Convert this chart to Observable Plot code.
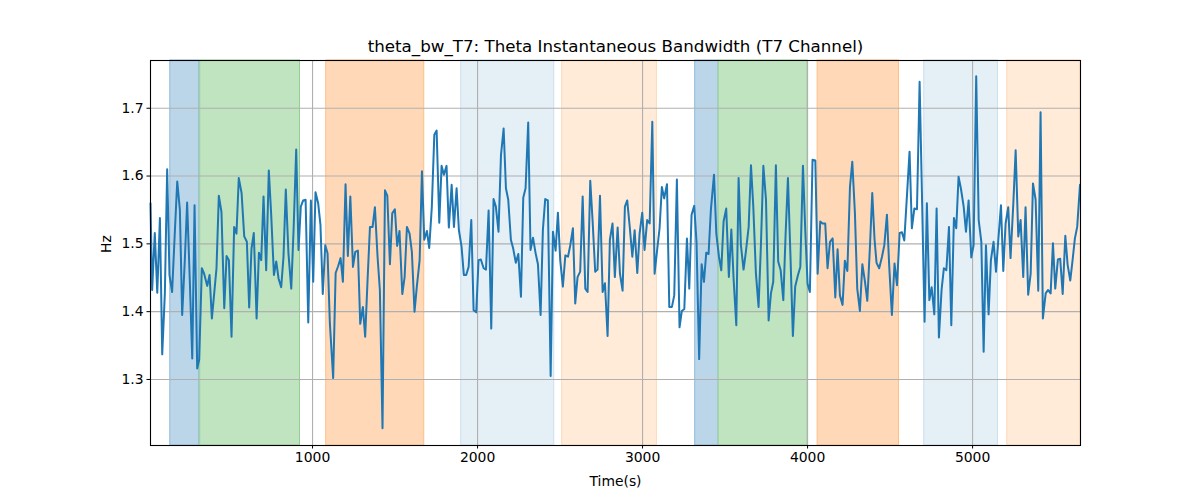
<!DOCTYPE html>
<html><head><meta charset="utf-8">
<script src="https://cdn.jsdelivr.net/npm/d3@7"></script>
<script src="https://cdn.jsdelivr.net/npm/@observablehq/plot@0.6"></script>
<style>
body{margin:0;background:#fff;}
svg{font-family:"DejaVu Sans",sans-serif;}
</style>
</head><body><div id="chart"></div>
<script>
const title = "theta_bw_T7: Theta Instantaneous Bandwidth (T7 Channel)";
const xLabel = "Time(s)";
const yLabel = "Hz";
const xTicks = [1000, 2000, 3000, 4000, 5000];
const yTicks = [1.3, 1.4, 1.5, 1.6, 1.7];

const times = [18,28,44,59,75,89,105,119,133,149,165,180,196,210,226,240,256,271,285,301,313,329,343,362,376,390,404,418,432,448,465,479,493,509,525,539,553,570,586,602,616,630,644,661,675,689,703,719,735,749,766,780,794,810,824,838,854,871,885,901,915,929,943,958,974,990,1004,1018,1034,1048,1062,1077,1091,1105,1125,1140,1155,1170,1184,1200,1214,1229,1245,1259,1275,1289,1305,1319,1334,1348,1364,1378,1394,1408,1424,1439,1453,1469,1483,1499,1513,1527,1544,1558,1572,1588,1602,1618,1632,1649,1663,1677,1693,1707,1723,1738,1752,1768,1782,1796,1812,1826,1843,1857,1873,1887,1903,1917,1931,1946,1962,1976,1992,2006,2020,2037,2051,2067,2083,2097,2111,2127,2142,2158,2172,2186,2202,2216,2232,2247,2263,2277,2291,2307,2321,2336,2352,2366,2382,2396,2410,2426,2443,2457,2473,2487,2501,2517,2532,2548,2562,2578,2592,2606,2622,2637,2653,2667,2683,2697,2713,2727,2742,2758,2772,2788,2802,2818,2832,2849,2863,2879,2893,2907,2923,2938,2952,2968,2982,2998,3012,3028,3043,3059,3073,3087,3103,3117,3131,3148,3162,3178,3192,3208,3224,3238,3253,3269,3283,3297,3313,3327,3343,3358,3372,3386,3400,3414,3433,3447,3463,3477,3491,3507,3523,3538,3552,3568,3582,3596,3612,3626,3643,3657,3671,3687,3703,3717,3732,3748,3764,3778,3792,3808,3822,3837,3853,3867,3881,3897,3911,3925,3942,3956,3972,3986,4000,4014,4030,4047,4061,4077,4091,4107,4121,4136,4152,4168,4182,4196,4212,4226,4241,4257,4271,4287,4301,4317,4332,4348,4362,4378,4392,4406,4418,4434,4451,4465,4481,4495,4511,4527,4542,4558,4572,4586,4602,4618,4632,4647,4663,4679,4693,4709,4723,4738,4752,4768,4782,4796,4812,4826,4841,4857,4871,4887,4901,4915,4929,4946,4960,4976,4992,5006,5022,5037,5053,5067,5081,5097,5111,5127,5142,5156,5172,5186,5200,5216,5230,5247,5261,5277,5291,5307,5321,5337,5352,5366,5382,5398,5412,5426,5443,5457,5473,5487,5501,5517,5531,5546,5562,5576,5592,5606,5620,5634,5651];

const values = [1.56,1.432,1.516,1.428,1.538,1.337,1.427,1.61,1.454,1.429,1.515,1.592,1.55,1.395,1.476,1.561,1.447,1.331,1.557,1.316,1.329,1.464,1.456,1.438,1.454,1.39,1.427,1.464,1.571,1.547,1.405,1.482,1.476,1.363,1.525,1.515,1.597,1.575,1.511,1.503,1.406,1.493,1.516,1.39,1.487,1.476,1.570,1.461,1.608,1.545,1.454,1.474,1.449,1.436,1.481,1.58,1.486,1.434,1.52,1.639,1.491,1.555,1.564,1.565,1.384,1.564,1.444,1.576,1.56,1.528,1.426,1.498,1.486,1.383,1.302,1.457,1.467,1.479,1.444,1.588,1.482,1.570,1.466,1.488,1.49,1.382,1.407,1.363,1.45,1.525,1.525,1.554,1.481,1.432,1.228,1.579,1.571,1.47,1.545,1.551,1.497,1.519,1.426,1.451,1.525,1.515,1.488,1.40,1.437,1.476,1.607,1.506,1.519,1.494,1.555,1.661,1.667,1.531,1.615,1.602,1.615,1.524,1.587,1.525,1.582,1.52,1.496,1.454,1.454,1.466,1.535,1.402,1.399,1.476,1.477,1.464,1.462,1.549,1.375,1.566,1.555,1.518,1.631,1.670,1.582,1.565,1.506,1.493,1.472,1.485,1.422,1.568,1.582,1.679,1.491,1.509,1.486,1.47,1.395,1.521,1.566,1.564,1.305,1.518,1.49,1.546,1.476,1.437,1.483,1.481,1.498,1.523,1.412,1.451,1.459,1.57,1.434,1.429,1.593,1.535,1.459,1.462,1.571,1.429,1.442,1.364,1.506,1.530,1.451,1.524,1.456,1.431,1.555,1.564,1.523,1.481,1.52,1.457,1.515,1.546,1.491,1.535,1.53,1.68,1.456,1.488,1.523,1.584,1.567,1.588,1.407,1.407,1.424,1.595,1.377,1.401,1.404,1.508,1.434,1.543,1.556,1.503,1.33,1.47,1.444,1.487,1.485,1.55,1.602,1.515,1.481,1.461,1.533,1.552,1.451,1.521,1.447,1.38,1.597,1.498,1.462,1.488,1.525,1.616,1.555,1.456,1.407,1.496,1.615,1.565,1.387,1.427,1.444,1.616,1.474,1.461,1.417,1.515,1.597,1.477,1.364,1.437,1.454,1.466,1.615,1.52,1.441,1.429,1.624,1.623,1.456,1.533,1.53,1.53,1.464,1.503,1.508,1.421,1.492,1.424,1.41,1.475,1.46,1.584,1.621,1.545,1.434,1.401,1.47,1.444,1.416,1.496,1.575,1.506,1.472,1.464,1.481,1.498,1.543,1.466,1.395,1.471,1.439,1.516,1.517,1.505,1.57,1.636,1.523,1.552,1.551,1.739,1.575,1.385,1.56,1.417,1.436,1.396,1.552,1.362,1.432,1.464,1.461,1.525,1.38,1.538,1.523,1.599,1.582,1.555,1.518,1.564,1.48,1.498,1.747,1.535,1.503,1.341,1.498,1.396,1.476,1.503,1.459,1.506,1.557,1.46,1.53,1.554,1.479,1.56,1.638,1.511,1.535,1.451,1.554,1.425,1.456,1.589,1.565,1.431,1.694,1.39,1.427,1.432,1.427,1.501,1.434,1.477,1.478,1.426,1.512,1.469,1.446,1.476,1.508,1.525,1.587];

const regionStarts = [138, 319, 1083, 1901, 2513, 3319, 3461, 4061, 4707, 5210];
const regionEnds   = [313, 924, 1677, 2465, 3087, 3461, 4000, 4554, 5154, 5654];
const regionTypes  = ["blue", "green", "orange", "lightblue", "lightorange", "blue", "green", "orange", "lightblue", "lightorange"];

// styling (not data)
const palette = {
  blue: ["#1f77b4", 0.3],
  green: ["#2ca02c", 0.3],
  orange: ["#ff7f0e", 0.3],
  lightblue: ["#1f77b4", 0.12],
  lightorange: ["#ff7f0e", 0.16]
};

const series = times.map((t, i) => ({t, v: values[i]}));
const regions = regionStarts.map((s, i) => {
  const [base, a] = palette[regionTypes[i]];
  return {
    start: s, end: regionEnds[i],
    fill: d3.interpolateRgb("white", base)(a),
    edge: d3.interpolateRgb("white", base)(1 - (1 - a) * (1 - a))
  };
});

const chart = Plot.plot({
  width: 1200, height: 500,
  marginLeft: 150, marginRight: 120, marginTop: 60, marginBottom: 55,
  style: {fontFamily: "DejaVu Sans, sans-serif", fontSize: "13.9px", color: "black", background: "white"},
  x: {domain: [18, 5654]},
  y: {domain: [1.2026, 1.7704]},
  color: {type: "identity"},
  marks: [
    Plot.rect(regions, {x1: "start", x2: "end", fill: "fill", stroke: "edge", strokeWidth: 1}),
    Plot.gridX(xTicks, {stroke: "#b0b0b0", strokeOpacity: 1, strokeWidth: 1.1}),
    Plot.gridY(yTicks, {stroke: "#b0b0b0", strokeOpacity: 1, strokeWidth: 1.1}),
    Plot.line(series, {x: "t", y: "v", stroke: "#1f77b4", strokeWidth: 2}),
    Plot.frame({stroke: "black", strokeWidth: 1.1}),
    Plot.axisX(xTicks, {tickSize: 3.5, tickPadding: 3.5, tickFormat: d => String(d), label: null, stroke: "black"}),
    Plot.axisY(yTicks, {tickSize: 3.5, tickPadding: 3.5, tickFormat: d => d.toFixed(1), label: null, stroke: "black"}),
    Plot.text([xLabel], {frameAnchor: "bottom", dy: 36, lineAnchor: "middle", fontSize: 13.9, fill: "black"}),
    Plot.text([yLabel], {frameAnchor: "left", dx: -44, rotate: -90, lineAnchor: "middle", fontSize: 13.9, fill: "black"}),
    Plot.text([title], {frameAnchor: "top", dy: -14, lineAnchor: "middle", fontSize: 16.7, fill: "black"})
  ]
});
document.getElementById("chart").appendChild(chart);
</script>
</body></html>
